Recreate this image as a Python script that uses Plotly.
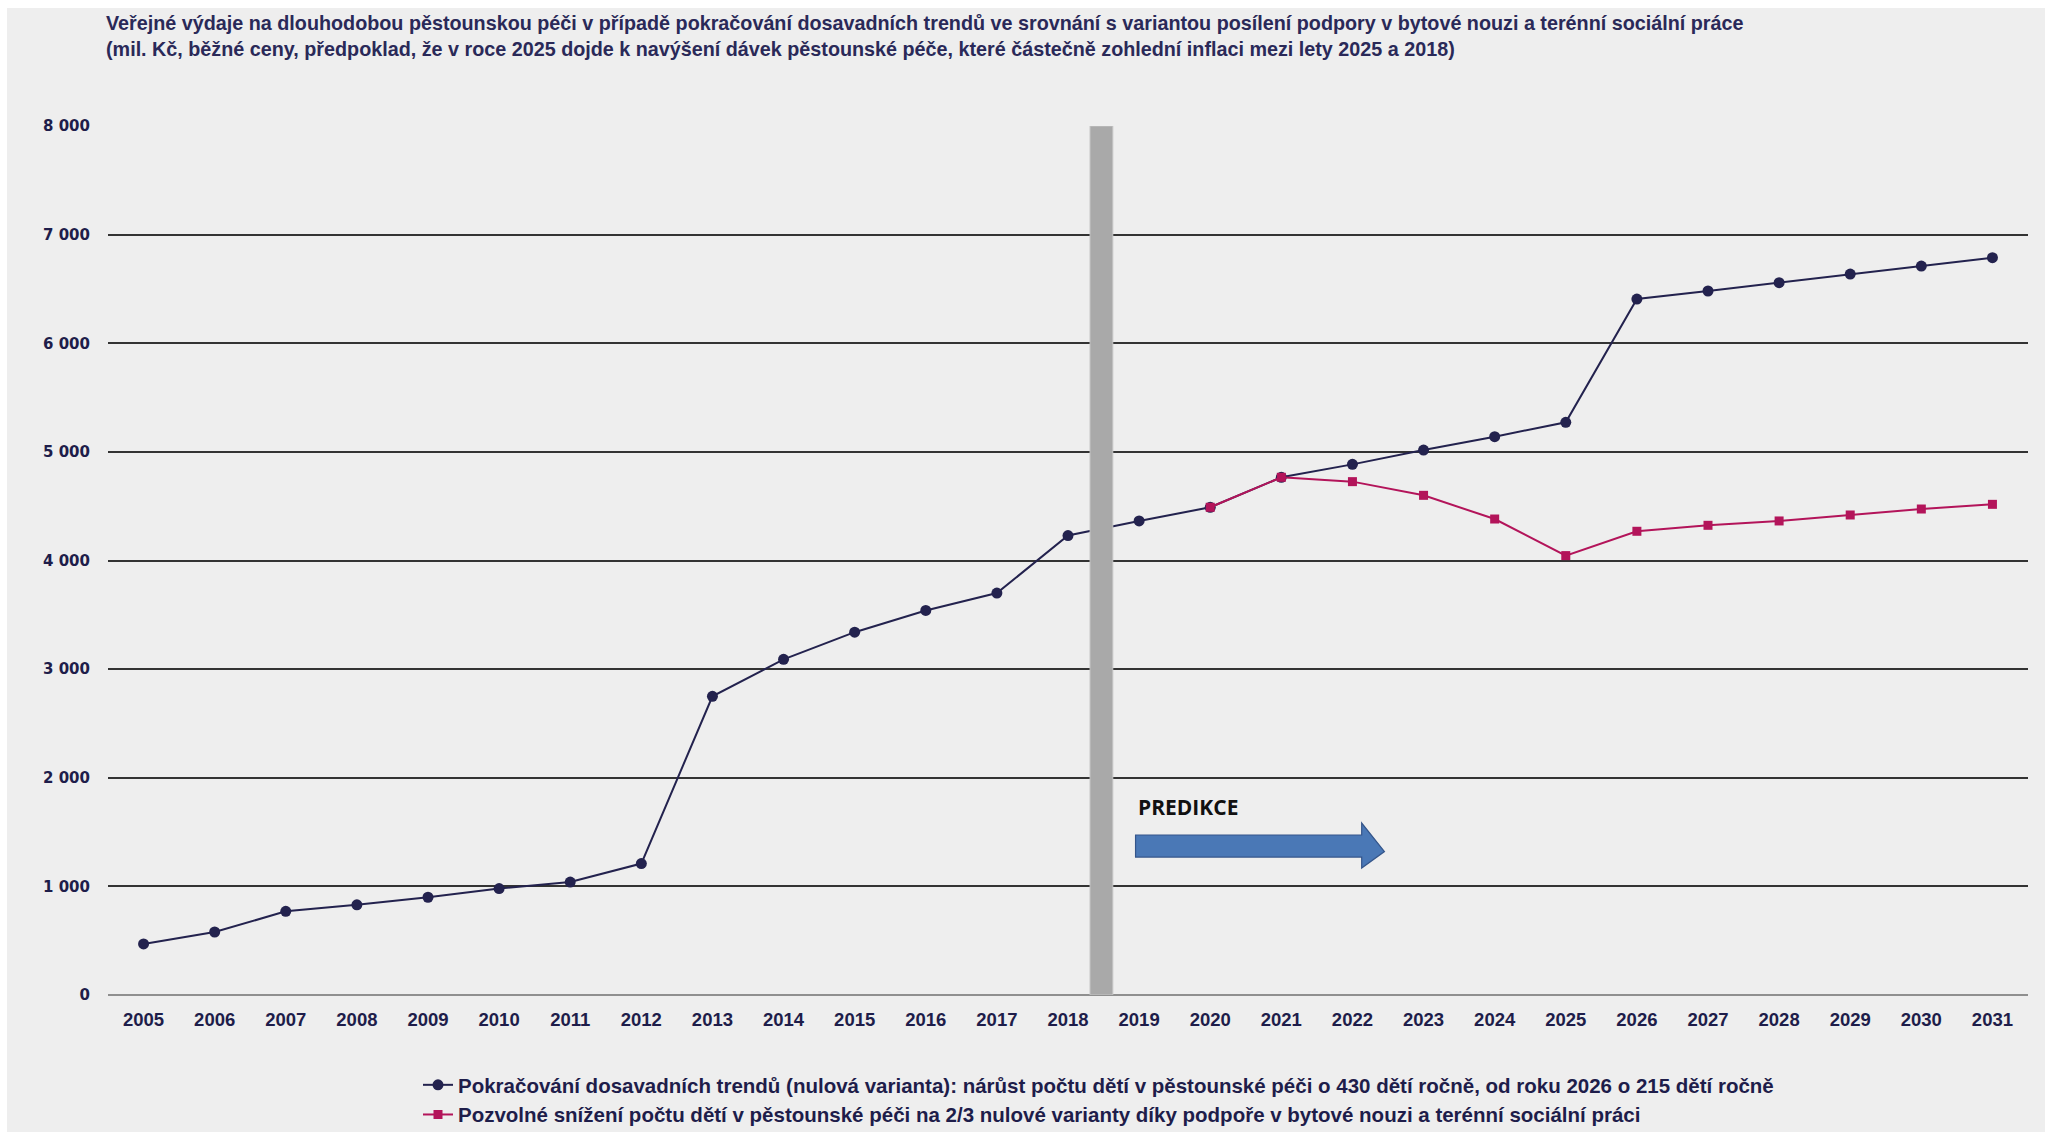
import plotly.graph_objects as go

years = list(range(2005, 2032))
trend_values = [470, 580, 770, 830, 900, 980, 1040, 1210, 2750, 3090, 3340, 3540, 3700, 4230,
                4364, 4490, 4766, 4885, 5017, 5140, 5272, 6407, 6481, 6558, 6637, 6711, 6788]
support_years = list(range(2020, 2032))
support_values = [4490, 4766, 4726, 4600, 4382, 4045, 4269, 4324, 4364, 4419, 4474, 4517]

title_text = ("Veřejné výdaje na dlouhodobou pěstounskou péči v případě pokračování dosavadních trendů ve srovnání s variantou posílení podpory v bytové nouzi a terénní sociální práce<br>"
              "(mil. Kč, běžné ceny, předpoklad, že v roce 2025 dojde k navýšení dávek pěstounské péče, které částečně zohlední inflaci mezi lety 2025 a 2018)")
name_trend = "Pokračování dosavadních trendů (nulová varianta): nárůst počtu dětí v pěstounské péči o 430 dětí ročně, od roku 2026 o 215 dětí ročně"
name_support = "Pozvolné snížení počtu dětí v pěstounské péči na 2/3 nulové varianty díky podpoře v bytové nouzi a terénní sociální práci"

NAVY = "#23224e"
PINK = "#b3145a"
TXT = "#1e1d4a"
FONT = "Liberation Sans, Arial, sans-serif"

fig = go.Figure()
fig.add_trace(go.Scatter(x=years, y=trend_values, mode="lines+markers", name=name_trend,
                         line=dict(color=NAVY, width=2),
                         marker=dict(symbol="circle", size=11, color=NAVY)))
fig.add_trace(go.Scatter(x=support_years, y=support_values, mode="lines+markers", name=name_support,
                         line=dict(color=PINK, width=2),
                         marker=dict(symbol="square", size=9, color=PINK)))

W, H = 2045, 1132
L, R, T, B = 108, 17, 126, 137
PW, PH = W - L - R, H - T - B

shapes = [
    dict(type="rect", xref="paper", yref="paper", x0=-(L - 7) / PW, x1=1 + R / PW,
         y0=-B / PH, y1=1 + (T - 8) / PH,
         fillcolor="#eeeeee", line=dict(width=0), layer="below"),
    dict(type="rect", xref="x", yref="y", x0=2018.31, x1=2018.63, y0=0, y1=8000,
         fillcolor="#a9a9a9", line=dict(color="#c4c4c4", width=1), layer="above"),
    dict(type="path", xref="x", yref="y",
         path="M 2018.95,1473 L 2022.13,1473 L 2022.13,1583 L 2022.45,1321 L 2022.13,1169 L 2022.13,1270 L 2018.95,1270 Z",
         fillcolor="#4a78b6", line=dict(color="#34558a", width=1.2), layer="above"),
]

fig.update_layout(
    width=W, height=H,
    margin=dict(l=L, r=R, t=T, b=B, pad=0, autoexpand=False),
    paper_bgcolor="white",
    plot_bgcolor="#eeeeee",
    separators=", ",
    showlegend=True,
    legend=dict(orientation="v", x=(418 - L) / PW, xanchor="left",
                y=-(1065 - 995) / PH, yanchor="top",
                bgcolor="rgba(0,0,0,0)", itemwidth=30, tracegroupgap=0,
                font=dict(family=FONT, size=20.5, color=TXT, weight="bold")),
    shapes=shapes,
    annotations=[
        dict(x=(104 - L) / PW, y=1 + (T - 10) / PH, xref="paper", yref="paper", text=title_text,
             showarrow=False, xanchor="left", yanchor="top", align="left",
             font=dict(family=FONT, size=19.75, color="#2a2958", weight="bold")),
        dict(x=2018.95, y=1730, xref="x", yref="y", text="<b>PREDIKCE</b>", showarrow=False,
             xanchor="left", yanchor="middle",
             font=dict(family="Open Sans, sans-serif", size=21, color="#111111")),
    ],
    xaxis=dict(range=[2004.5, 2031.5], tickmode="array", tickvals=years,
               ticktext=[str(y) for y in years], showgrid=False, zeroline=False,
               showline=False, ticks="", ticklabelstandoff=11,
               tickfont=dict(family=FONT, size=18.5, color=TXT, weight="bold")),
    yaxis=dict(range=[0, 8000], tickmode="array", tickvals=list(range(0, 8001, 1000)),
               tickformat=",d", showgrid=True, gridcolor="#333333", gridwidth=1.5,
               zeroline=True, zerolinecolor="#8f8f8f", zerolinewidth=1.6,
               showline=False, ticks="", ticklabelstandoff=17,
               tickfont=dict(family="DejaVu Sans, Verdana, sans-serif", size=15, color=TXT, weight="bold")),
)

fig.write_html("out.html")
